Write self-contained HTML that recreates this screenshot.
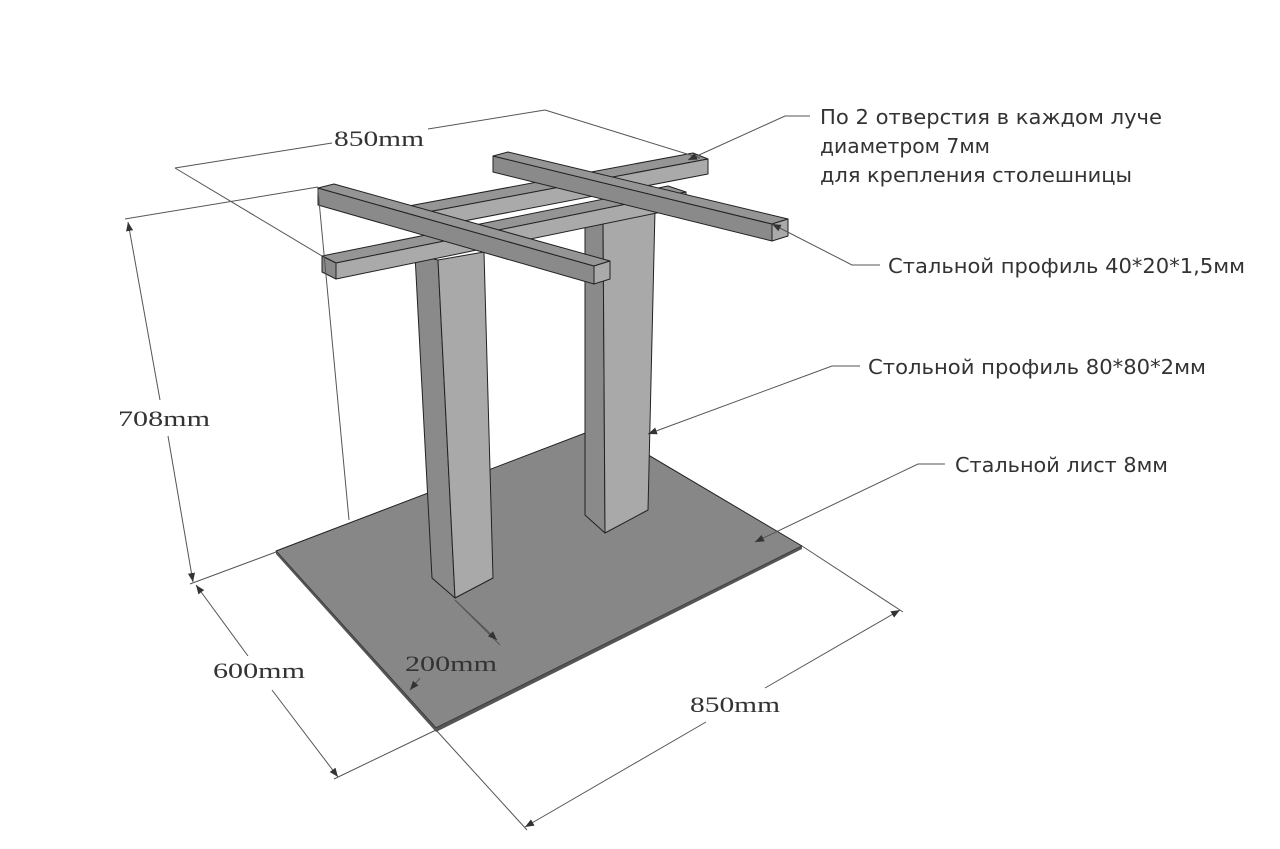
<!DOCTYPE html>
<html><head><meta charset="utf-8"><style>
html,body{margin:0;padding:0;background:#fff;}
svg{display:block;}
.d{stroke:#555;stroke-width:1;fill:none;}
.s{font-family:"Liberation Serif",serif;font-size:22px;fill:#333;}
.t{font-family:"DejaVu Sans","Liberation Sans",sans-serif;font-size:20px;fill:#333;}
.e{stroke:#222;stroke-width:1;stroke-linejoin:round;}
</style></head><body>
<svg width="1280" height="849" viewBox="0 0 1280 849" xmlns="http://www.w3.org/2000/svg">
<defs>
<marker id="a" viewBox="0 0 10 10" refX="10" refY="5" markerWidth="9" markerHeight="9" orient="auto-start-reverse"><path d="M0,1 L10,5 L0,9 z" fill="#333"/></marker>
</defs>
<!-- base plate -->
<polygon points="276,551 601,427 802,546 436,728" fill="#878787" class="e"/>
<polygon points="276,551 436,728 802,546 802,549 436,732 276,554" fill="#555"/>
<!-- right leg -->
<polygon points="585,215 603,218 605,533 585,515" fill="#8a8a8a" class="e"/>
<polygon points="603,218 655,210 648,510 605,533" fill="#a9a9a9" class="e"/>
<!-- left leg -->
<polygon points="415,255 438,260 455,598 432,578" fill="#8a8a8a" class="e"/>
<polygon points="438,260 484,252 493,578 455,598" fill="#a9a9a9" class="e"/>
<!-- back long bar -->
<polygon points="398,208 693,153 708,159 412,215" fill="#959595" class="e"/>
<polygon points="412,215 708,159 708,174 412,231" fill="#aaaaaa" class="e"/>
<!-- front long bar -->
<polygon points="322,256 668,186 686,192 336,263" fill="#959595" class="e"/>
<polygon points="336,263 686,192 686,207 336,279" fill="#aaaaaa" class="e"/>
<polygon points="322,256 336,263 336,279 322,272" fill="#8a8a8a" class="e"/>
<!-- left cross bar -->
<polygon points="318,188 594,266 594,284 318,205" fill="#8a8a8a" class="e"/>
<polygon points="318,188 334,184 610,261 594,266" fill="#959595" class="e"/>
<polygon points="594,266 610,261 610,279 594,284" fill="#aaaaaa" class="e"/>
<!-- right cross bar -->
<polygon points="493,156 772,224 772,241 493,172" fill="#8a8a8a" class="e"/>
<polygon points="493,156 508,152 788,219 772,224" fill="#959595" class="e"/>
<polygon points="772,224 788,219 788,236 772,241" fill="#aaaaaa" class="e"/>
<!-- dimension lines -->
<line class="d" x1="175" y1="168" x2="322" y2="256"/>
<line class="d" x1="545" y1="110" x2="700" y2="158"/>
<line class="d" x1="175" y1="168" x2="332" y2="143"/>
<line class="d" x1="428" y1="129" x2="545" y2="110"/>
<text class="s" x="334" y="146" textLength="90" lengthAdjust="spacingAndGlyphs">850mm</text>
<line class="d" x1="125" y1="219" x2="318" y2="187"/>
<line class="d" x1="318" y1="190" x2="349" y2="520"/>
<line class="d" x1="128" y1="222" x2="160" y2="400" marker-start="url(#a)"/>
<line class="d" x1="168" y1="436" x2="193" y2="582" marker-end="url(#a)"/>
<text class="s" x="118" y="426" textLength="92" lengthAdjust="spacingAndGlyphs">708mm</text>
<line class="d" x1="190" y1="584" x2="276" y2="552"/>
<line class="d" x1="196" y1="585" x2="248" y2="656" marker-start="url(#a)"/>
<line class="d" x1="272" y1="690" x2="338" y2="777" marker-end="url(#a)"/>
<text class="s" x="213" y="678" textLength="92" lengthAdjust="spacingAndGlyphs">600mm</text>
<line class="d" x1="334" y1="779" x2="436" y2="730"/>
<line class="d" x1="436" y1="730" x2="527" y2="830"/>
<line class="d" x1="802" y1="546" x2="903" y2="612"/>
<line class="d" x1="525" y1="827" x2="706" y2="722" marker-start="url(#a)"/>
<line class="d" x1="765" y1="688" x2="900" y2="610" marker-end="url(#a)"/>
<text class="s" x="690" y="712" textLength="90" lengthAdjust="spacingAndGlyphs">850mm</text>
<line class="d" x1="455" y1="600" x2="500" y2="645"/>
<line class="d" x1="455" y1="600" x2="497" y2="640" marker-end="url(#a)"/>
<line class="d" x1="420" y1="678" x2="410" y2="690" marker-end="url(#a)"/>
<text class="s" x="405" y="671" textLength="92" lengthAdjust="spacingAndGlyphs">200mm</text>
<!-- leaders -->
<polyline class="d" points="810,116 785,116 688,160" marker-end="url(#a)"/>
<polyline class="d" points="880,265 852,265 772,224" marker-end="url(#a)"/>
<polyline class="d" points="860,366 832,366 648,434" marker-end="url(#a)"/>
<polyline class="d" points="945,464 918,464 755,542" marker-end="url(#a)"/>
<text class="t" x="820" y="124" textLength="342" lengthAdjust="spacingAndGlyphs">По 2 отверстия в каждом луче</text>
<text class="t" x="820" y="153" textLength="170" lengthAdjust="spacingAndGlyphs">диаметром 7мм</text>
<text class="t" x="820" y="182" textLength="312" lengthAdjust="spacingAndGlyphs">для крепления столешницы</text>
<text class="t" x="888" y="273" textLength="357" lengthAdjust="spacingAndGlyphs">Стальной профиль 40*20*1,5мм</text>
<text class="t" x="868" y="374" textLength="338" lengthAdjust="spacingAndGlyphs">Стольной профиль 80*80*2мм</text>
<text class="t" x="955" y="472" textLength="213" lengthAdjust="spacingAndGlyphs">Стальной лист 8мм</text>
</svg>
</body></html>
